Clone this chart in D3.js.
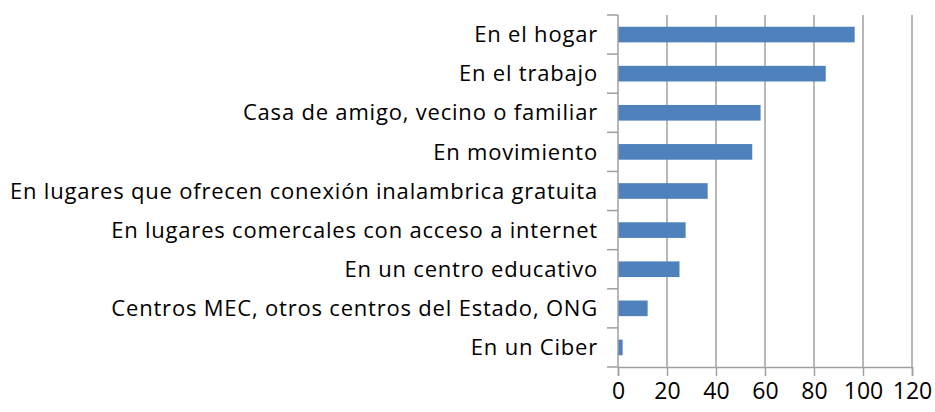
<!DOCTYPE html>
<html>
<head>
<meta charset="utf-8">
<script src="https://cdn.jsdelivr.net/npm/d3@7"></script>
<style>
  body { margin: 0; background: #fff; }
  text { font-family: "Open Sans", "Noto Sans", sans-serif; fill: #000; }
</style>
</head>
<body>
<div id="chart"></div>
<script>
// data, top to bottom
const categories = [
    "En el hogar",
    "En el trabajo",
    "Casa de amigo, vecino o familiar",
    "En movimiento",
    "En lugares que ofrecen conexión inalambrica gratuita",
    "En lugares comercales con acceso a internet",
    "En un centro educativo",
    "Centros MEC, otros centros del Estado, ONG",
    "En un Ciber"
];
const values = [96.6, 84.8, 58.2, 54.8, 36.6, 27.6, 25.1, 12.1, 1.9];
const xTicks = [0, 20, 40, 60, 80, 100, 120];

const margin = {top: 15, right: 23, bottom: 45, left: 618};
const width = 935 - margin.left - margin.right;
const height = 412 - margin.top - margin.bottom;

const svg = d3.select("#chart").append("svg")
    .attr("width", 935)
    .attr("height", 412)
    .append("g")
    .attr("transform", `translate(${margin.left},${margin.top})`);

const x = d3.scaleLinear().domain([0, 120]).range([0, width]);
const y = d3.scaleBand().domain(categories).range([0, height]).paddingInner(0.6).paddingOuter(0.3);

// gridlines
svg.selectAll(".grid")
    .data(xTicks.slice(1))
    .enter().append("line")
    .attr("x1", d => x(d)).attr("x2", d => x(d))
    .attr("y1", 0).attr("y2", height)
    .attr("stroke", "#a0a0a0").attr("stroke-width", 1.5);

// bars
svg.selectAll(".bar")
    .data(values)
    .enter().append("rect")
    .attr("class", "bar")
    .attr("x", x(0))
    .attr("y", (d, i) => y(categories[i]))
    .attr("width", d => x(d) - x(0))
    .attr("height", y.bandwidth())
    .attr("fill", "#4f81bd");

// x axis
const xAxis = svg.append("g")
    .attr("transform", `translate(0,${height})`)
    .call(d3.axisBottom(x).tickValues(xTicks).tickSize(9).tickPadding(7));
xAxis.selectAll("text").style("font-size", "23px");

// y axis, ticks at the band boundaries
const boundaries = d3.range(categories.length + 1).map(i => i * height / categories.length);
const yAxis = svg.append("g");
yAxis.append("line")
    .attr("x1", 0).attr("x2", 0).attr("y1", 0).attr("y2", height);
yAxis.selectAll(".ytick")
    .data(boundaries)
    .enter().append("line")
    .attr("x1", -11).attr("x2", 0)
    .attr("y1", d => d).attr("y2", d => d);
yAxis.selectAll(".ylabel")
    .data(categories)
    .enter().append("text")
    .attr("x", -20)
    .attr("y", d => y(d) + y.bandwidth() / 2)
    .attr("dy", "0.35em")
    .attr("text-anchor", "end")
    .style("font-size", "22px")
    .style("letter-spacing", "0.8px")
    .text(d => d);

svg.selectAll(".domain, .tick line").attr("stroke", "#a0a0a0").attr("stroke-width", 1.5);
yAxis.selectAll("line").attr("stroke", "#a0a0a0").attr("stroke-width", 1.5);
</script>
</body>
</html>
